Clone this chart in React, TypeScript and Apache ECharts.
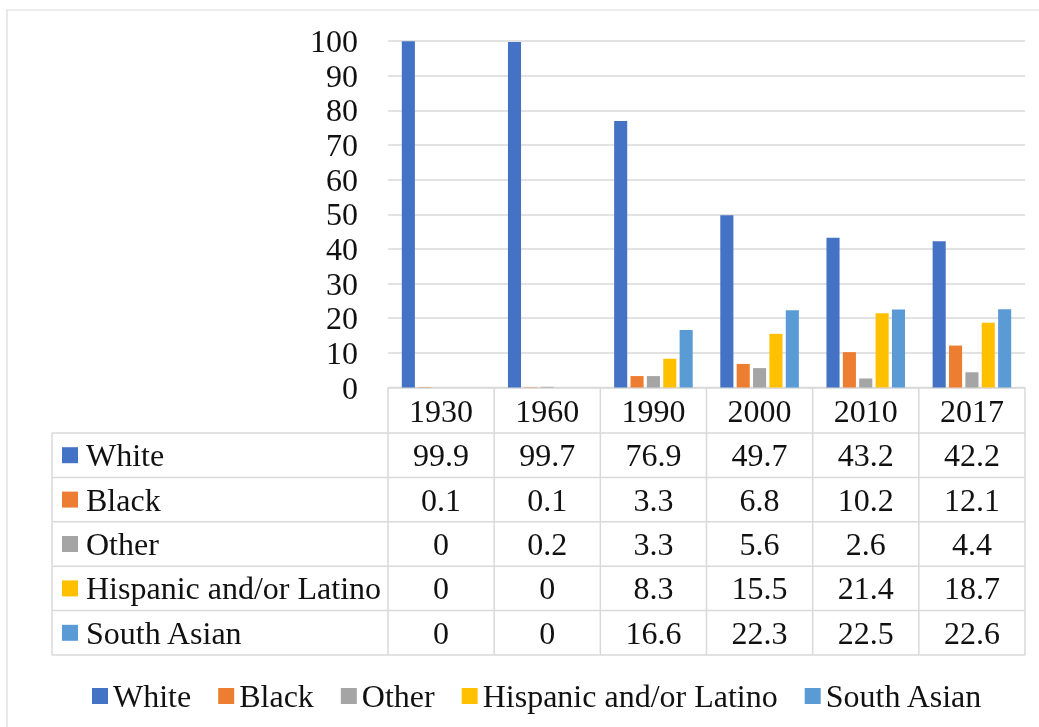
import React, { useEffect, useRef } from "react";
import * as echarts from "echarts";

// Census shares (%) by year
const categories = ["1930", "1960", "1990", "2000", "2010", "2017"];
const white = [99.9, 99.7, 76.9, 49.7, 43.2, 42.2];
const black = [0.1, 0.1, 3.3, 6.8, 10.2, 12.1];
const other = [0, 0.2, 3.3, 5.6, 2.6, 4.4];
const hispanic = [0, 0, 8.3, 15.5, 21.4, 18.7];
const southAsian = [0, 0, 16.6, 22.3, 22.5, 22.6];
const seriesNames = ["White", "Black", "Other", "Hispanic and/or Latino", "South Asian"];
const seriesData = [white, black, other, hispanic, southAsian];
const colors = ["#4472C4", "#ED7D31", "#A5A5A5", "#FFC000", "#5B9BD5"];

const LINE = "#D9D9D9";
const INK = "#111";

export default function App() {
  const ref = useRef<HTMLDivElement>(null);
  useEffect(() => {
    if (!ref.current) return;
    const chart = echarts.init(ref.current, undefined, { renderer: "svg" });

    // plot box and data-table geometry
    const plotLeft = 388;
    const plotRight = 1025;
    const axisY = 387.5;
    const headerBottom = 433;
    const rowH = 44.4;
    const tableLeft = 52;
    const band = (plotRight - plotLeft) / categories.length;
    const tableBottom = headerBottom + rowH * seriesNames.length;
    const ln = { stroke: LINE, lineWidth: 1.5 };

    const elements: any[] = [
      { type: "rect", shape: { x: 7, y: 10, width: 1100, height: 800 }, style: { fill: "none", stroke: LINE, lineWidth: 1.2 } },
      { type: "line", shape: { x1: plotLeft, y1: axisY, x2: plotRight, y2: axisY }, style: ln },
      { type: "line", shape: { x1: tableLeft, y1: headerBottom, x2: tableLeft, y2: tableBottom }, style: ln },
    ];
    for (let i = 0; i <= categories.length; i++) {
      const x = plotLeft + i * band;
      elements.push({ type: "line", shape: { x1: x, y1: axisY, x2: x, y2: tableBottom }, style: ln });
    }
    for (let r = 0; r <= seriesNames.length; r++) {
      const y = headerBottom + r * rowH;
      elements.push({ type: "line", shape: { x1: tableLeft, y1: y, x2: plotRight, y2: y }, style: ln });
    }
    seriesNames.forEach((name, r) => {
      const cy = headerBottom + r * rowH + rowH / 2;
      elements.push({ type: "rect", shape: { x: 62, y: cy - 8, width: 16, height: 16 }, style: { fill: colors[r] } });
      elements.push({
        type: "text",
        style: { text: name, x: 86, y: cy - 16, fontFamily: "Liberation Serif", fontSize: 32, fill: INK },
      });
      seriesData[r].forEach((v, c) => {
        elements.push({
          type: "text",
          style: {
            text: String(v),
            x: plotLeft + band * (c + 0.5),
            y: cy - 16,
            fontFamily: "Liberation Serif",
            fontSize: 32,
            fill: INK,
            textAlign: "center",
          },
        });
      });
    });

    chart.setOption({
      animation: false,
      color: colors,
      grid: { left: plotLeft, right: 1039 - plotRight, top: 41, bottom: 727 - axisY },
      legend: {
        left: 87,
        top: 675,
        icon: "rect",
        itemWidth: 16,
        itemHeight: 16,
        itemGap: 27,
        textStyle: { fontFamily: "Liberation Serif", fontSize: 32, color: INK },
        data: seriesNames,
      },
      xAxis: {
        type: "category",
        data: categories,
        axisLine: { show: false },
        axisTick: { show: false },
        axisLabel: { fontFamily: "Liberation Serif", fontSize: 32, color: INK, margin: 7 },
      },
      yAxis: {
        type: "value",
        min: 0,
        max: 100,
        interval: 10,
        axisLabel: { fontFamily: "Liberation Serif", fontSize: 32, color: INK, margin: 30 },
        splitLine: { lineStyle: { color: LINE, width: 1.5 } },
      },
      series: seriesNames.map((name, i) => ({
        name,
        type: "bar",
        data: seriesData[i],
        barGap: "25%",
        barCategoryGap: "26%",
      })),
      graphic: { elements },
    });
    return () => chart.dispose();
  }, []);
  return <div ref={ref} style={{ position: "fixed", left: 0, top: 0, width: 1039, height: 727 }} />;
}
